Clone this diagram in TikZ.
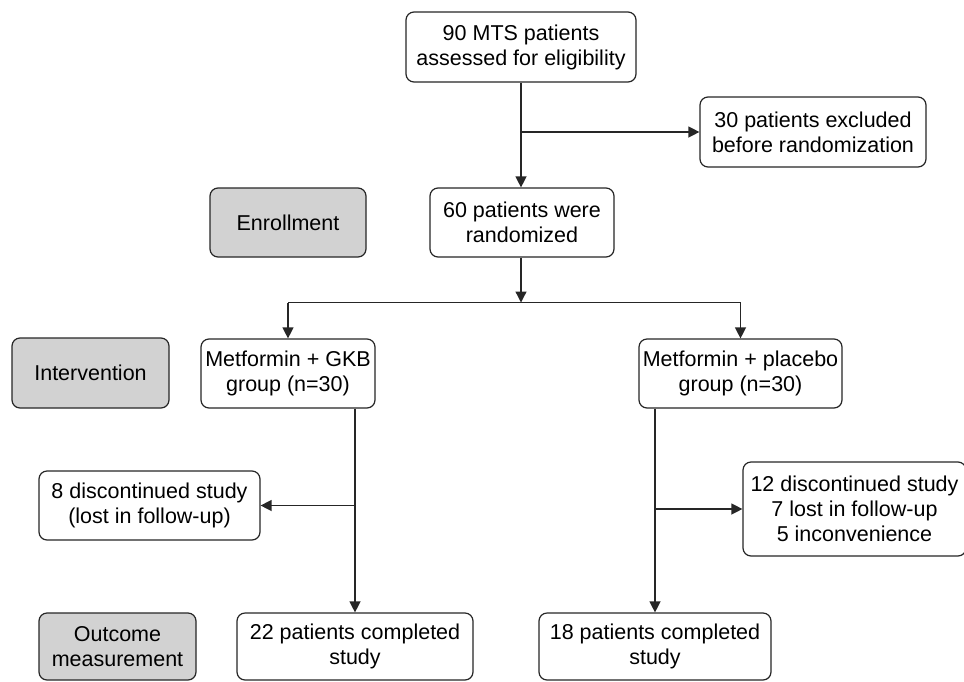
\documentclass[tikz,border=0pt]{standalone}
\usepackage{fontspec}
\setmainfont{Liberation Sans}
\usetikzlibrary{arrows.meta,calc}
\tikzset{
  box/.style={draw=black!85, line width=1.2pt, rounded corners=8pt, fill=white, align=center,
    inner sep=0pt, font=\fontsize{21.5}{25}\selectfont},
  graybox/.style={box, fill=gray!35},
  conn/.style={draw=black!85, line width=1.3pt},
  arr/.style={conn, -{Triangle[length=11pt,width=11pt]}}
}
\begin{document}
\begin{tikzpicture}[x=1pt,y=-1pt]
\useasboundingbox (0,0) rectangle (964,681);
\node[box, minimum width=230pt, minimum height=70pt] (A) at (521,47) {90 MTS patients\\assessed for eligibility};
\node[box, minimum width=226pt, minimum height=70pt] (B) at (813,132) {30 patients excluded\\before randomization};
\node[box, minimum width=184pt, minimum height=69pt] (R) at (522,222.5) {60 patients were\\randomized};
\node[graybox, minimum width=156pt, minimum height=69pt] (E) at (288,222.5) {Enrollment};
\node[graybox, minimum width=157pt, minimum height=70pt] (I) at (90.5,373) {Intervention};
\node[box, minimum width=174pt, minimum height=69pt] (G) at (288,373.5) {Metformin + GKB\\group (n=30)};
\node[box, minimum width=203pt, minimum height=69pt] (P) at (740.5,373.5) {Metformin + placebo\\group (n=30)};
\node[box, minimum width=221pt, minimum height=69pt] (D8) at (149.5,505.5) {8 discontinued study\\(lost in follow-up)};
\node[box, minimum width=223pt, minimum height=94pt] (D12) at (854.5,509) {12 discontinued study\\7 lost in follow-up\\5 inconvenience};
\node[graybox, minimum width=157pt, minimum height=67pt] (O) at (117.5,646.5) {Outcome\\measurement};
\node[box, minimum width=236pt, minimum height=67pt] (C22) at (355,646.5) {22 patients completed\\study};
\node[box, minimum width=232pt, minimum height=67pt] (C18) at (655,646.5) {18 patients completed\\study};

\coordinate (ja) at (A.south |- B.west);
\draw[arr] (A.south) -- (A.south |- R.north);
\draw[arr] (ja) -- (B.west);

\coordinate (split) at (521,302.5);
\coordinate (sl) at (G.north |- split);
\coordinate (sr) at (P.north |- split);
\draw[arr] (R.south -| split) -- (split);
\draw[conn] (sl) -- (sr);
\draw[arr] (sl) -- (G.north);
\draw[arr] (sr) -- (P.north);

\coordinate (gb) at (C22.north |- G.south);
\coordinate (g8) at (C22.north |- D8.east);
\draw[arr] (gb) -- (C22.north);
\draw[arr] (g8) -- (D8.east);

\coordinate (pb) at (C18.north |- P.south);
\coordinate (p12) at (C18.north |- D12.west);
\draw[arr] (pb) -- (C18.north);
\draw[arr] (p12) -- (D12.west);
\end{tikzpicture}
\end{document}
